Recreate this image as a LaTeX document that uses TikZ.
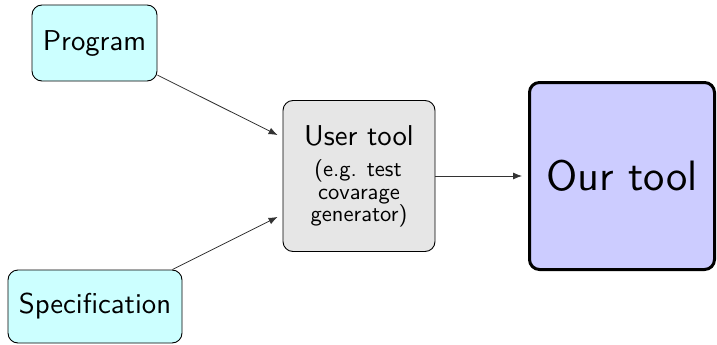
\documentclass[tikz,border=0pt]{standalone}
\usepackage{fontspec}
\setsansfont{lmsans10-regular.otf}
\usetikzlibrary{arrows.meta,calc}
\definecolor{inputfill}{RGB}{204,255,255}
\definecolor{toolfill}{RGB}{230,230,230}
\definecolor{ourfill}{RGB}{204,204,255}
\begin{document}
\begin{tikzpicture}[x=1pt,y=-1pt,
  box/.style={draw, rounded corners=10pt, line width=0.9pt, inner sep=0pt,
    align=center, font=\sffamily\fontsize{28.7}{34}\selectfont},
  inbox/.style={box, fill=inputfill},
  toolbox/.style={box, fill=toolfill},
  ourbox/.style={box, fill=ourfill, line width=3pt,
    font=\sffamily\fontsize{42.5}{48}\selectfont},
  title/.style={anchor=base, inner sep=0pt, font=\sffamily\fontsize{28.7}{34}\selectfont},
  note/.style={anchor=base, inner sep=0pt, font=\sffamily\fontsize{22.5}{23}\selectfont},
  conn/.style={-{Latex[length=9pt,width=7pt]}, line width=0.8pt, draw=black!80},
]
\useasboundingbox (0,0) rectangle (717,345);

% inputs
\node[inbox, minimum width=125, minimum height=76] (prog) at (94.5,43) {Program};
\node[inbox, minimum width=174, minimum height=73] (spec) at (95,306.5) {Specification};

% user tool box and its lines of text
\node[toolbox, minimum width=152, minimum height=151] (user) at (359,176) {};
\node[title] (usertitle) at (359,145) {User tool};
\node[note] (usernote1) at (358,176.2) {(e.g. test};
\node[note] (usernote2) at (359,199.2) {covarage};
\node[note] (usernote3) at (359,221.9) {generator)};

% our tool
\node[ourbox, minimum width=185, minimum height=187] (our) at (622,176) {Our tool};

% connectors
\draw[conn] (prog.-27) -- ($(user.north west)+(-5,35)$);
\draw[conn] ($(spec.north east)+(-10,0)$) -- ($(user.south west)+(-5,-35)$);
\draw[conn] (user.east) -- ($(our.west)+(-6,0)$);
\end{tikzpicture}
\end{document}
